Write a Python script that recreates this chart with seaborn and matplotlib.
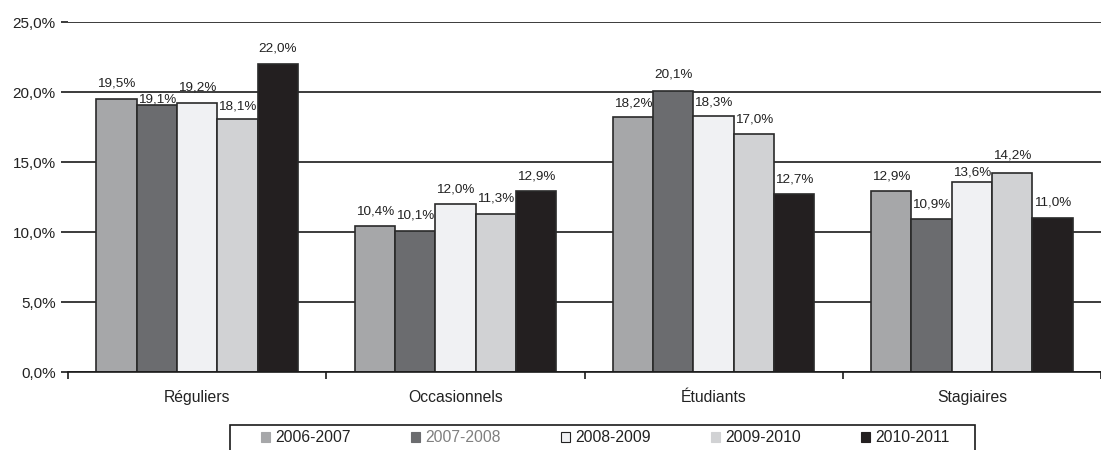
import matplotlib
matplotlib.use("Agg")
import matplotlib.pyplot as plt
import seaborn as sns
import pandas as pd
from matplotlib.patches import Patch, Rectangle
from matplotlib.ticker import FuncFormatter, FixedLocator

categories = ["Réguliers", "Occasionnels", "Étudiants", "Stagiaires"]
years = ["2006-2007", "2007-2008", "2008-2009", "2009-2010", "2010-2011"]
v_2006 = [19.5, 10.4, 18.2, 12.9]
v_2007 = [19.1, 10.1, 20.1, 10.9]
v_2008 = [19.2, 12.0, 18.3, 13.6]
v_2009 = [18.1, 11.3, 17.0, 14.2]
v_2010 = [22.0, 12.9, 12.7, 11.0]
colors = ["#a6a7a9", "#6b6c6f", "#f0f1f3", "#d1d2d4", "#231f20"]

# label offsets above bars (points), per series / category (style only)
label_pad = [
    [6.5, 6.5, 5.5, 6.5],
    [-0.5, 6.5, 7.0, 6.5],
    [7.0, 6.0, 5.5, 2.2],
    [4.3, 6.5, 6.0, 8.5],
    [7.0, 6.5, 6.5, 6.5],
]

series = [v_2006, v_2007, v_2008, v_2009, v_2010]
rows = []
for y, vals in zip(years, series):
    for c, v in zip(categories, vals):
        rows.append({"cat": c, "year": y, "val": v})
df = pd.DataFrame(rows)

sns.set_theme(style="white")
plt.rcParams['font.family'] = ['Liberation Sans', 'DejaVu Sans']

fig = plt.figure(figsize=(11.01, 4.5), dpi=100)
ax = fig.add_axes([0.0618, 0.1733, 0.9382, 0.7778])

sns.barplot(data=df, x="cat", y="val", hue="year", order=categories,
            hue_order=years, palette=colors, width=0.78, ax=ax,
            edgecolor="#2a2a2a", linewidth=1.2, legend=False, saturation=1)

for si, cont in enumerate(ax.containers):
    for ci, b in enumerate(cont):
        h = b.get_height()
        ax.annotate(f"{h:.1f}%".replace(".", ","),
                    (b.get_x() + b.get_width() / 2, h),
                    xytext=(0, label_pad[si][ci]), textcoords="offset points",
                    ha="center", va="bottom", fontsize=9.7, color="#222222")

ax.set_ylim(0, 25)
ax.set_xlim(-0.5, 3.5)
ax.set_yticks([0, 5, 10, 15, 20, 25])
ax.yaxis.set_major_formatter(FuncFormatter(lambda v, p: f"{v:.1f}%".replace(".", ",")))
ax.yaxis.grid(True, color="#1a1a1a", linewidth=1.2)
ax.set_axisbelow(True)
ax.set_xlabel("")
ax.set_ylabel("")
for s in ["left", "right", "top"]:
    ax.spines[s].set_visible(False)
ax.spines["bottom"].set_color("#1a1a1a")
ax.spines["bottom"].set_linewidth(1.2)
ax.tick_params(axis="y", left=True, length=5, width=1.2, color="#1a1a1a", labelsize=11, pad=4, labelcolor="#222222")
ax.tick_params(axis="x", bottom=False, labelsize=11.3, pad=7, labelcolor="#222222")
ax.xaxis.set_minor_locator(FixedLocator([-0.5, 0.5, 1.5, 2.5, 3.5]))
ax.tick_params(axis="x", which="minor", bottom=True, length=5, width=1.2, color="#1a1a1a")

handles = [Patch(facecolor=c, edgecolor=("#222222" if i == 2 else c), linewidth=0.8) for i, c in enumerate(colors)]
leg = fig.legend(handles, years, loc="center", bbox_to_anchor=(605.5 / 1101, 1 - 438 / 450), ncol=5,
                 frameon=False, handlelength=0.55, handleheight=0.55,
                 handletextpad=0.35, columnspacing=3.85, fontsize=11.3, borderpad=0.2)
for i, t in enumerate(leg.get_texts()):
    t.set_color("#808080" if i == 1 else "#222222")

frame = Rectangle((230 / 1101, -0.05), 745 / 1101, 0.05 + (1 - 425 / 450),
                  transform=fig.transFigure, fill=False, edgecolor="#1a1a1a",
                  linewidth=1.2, clip_on=False)
fig.add_artist(frame)

fig.savefig("out.png", dpi=100)
